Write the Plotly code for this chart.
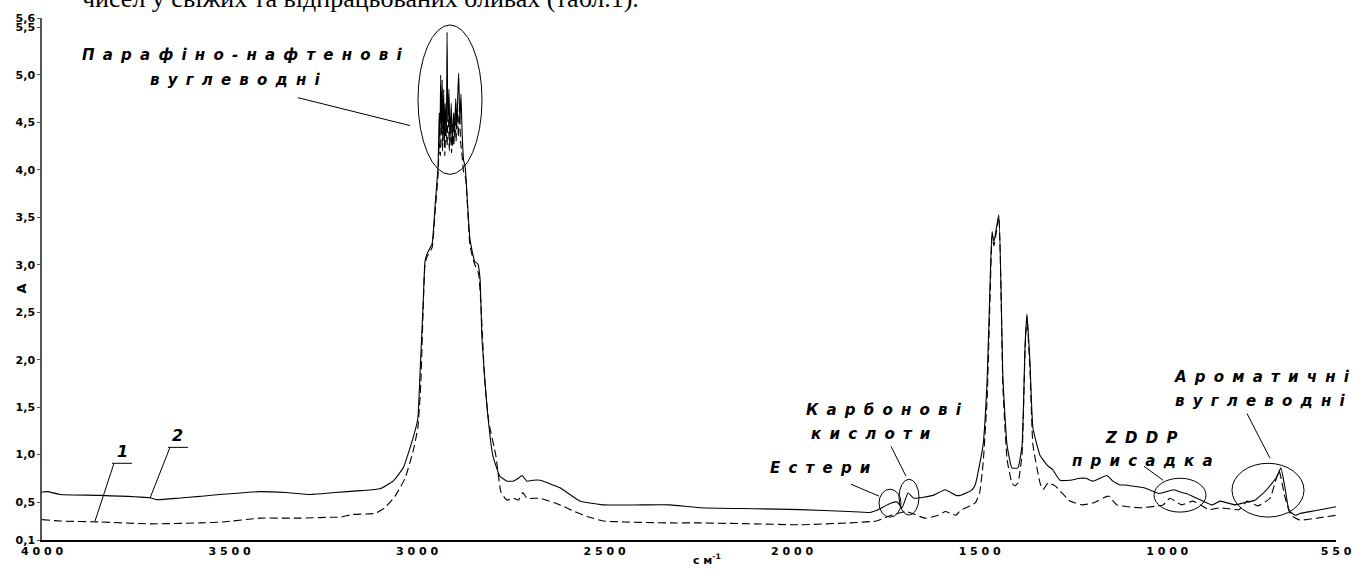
import plotly.graph_objects as go

# ---------------- data ----------------
# curve 2 (solid)
wn2 = [4000, 3985, 3952, 3845, 3712, 3693, 3637, 3579, 3419, 3350, 3285, 3220, 3152, 3099, 3064,
       3037, 3011, 2998, 2992, 2984, 2979, 2974, 2960, 2952,
       2944, 2941, 2939, 2937, 2935, 2933, 2931, 2929, 2927, 2925, 2922, 2920, 2918, 2915, 2912,
       2909, 2906, 2903, 2900, 2897, 2894, 2891, 2889, 2886, 2883, 2880, 2876,
       2872, 2859, 2846, 2838, 2832, 2827, 2814, 2798, 2779, 2760, 2744, 2730, 2720, 2707, 2690,
       2672, 2619, 2566, 2504, 2400, 2326, 2246, 2100, 1979, 1850, 1792, 1776, 1736, 1720, 1707,
       1691, 1675, 1624, 1592, 1563, 1552, 1523, 1512, 1491, 1480, 1472, 1467, 1462, 1449, 1438,
       1427, 1414, 1398, 1387, 1379, 1374, 1366, 1358, 1339, 1318, 1305, 1286, 1259, 1233, 1217,
       1198, 1161, 1145, 1126, 1115, 1062, 1022, 1011, 982, 961, 950, 921, 881, 859, 819, 798,
       766, 737, 707, 697, 686, 675, 659, 646, 603, 550]
a2 = [0.605, 0.61, 0.58, 0.57, 0.545, 0.525, 0.54, 0.56, 0.61, 0.60, 0.58, 0.60, 0.62, 0.64, 0.72,
      0.86, 1.17, 1.38, 1.87, 2.57, 3.03, 3.11, 3.22, 3.62,
      4.04, 4.6, 4.3, 5.0, 4.4, 4.95, 4.3, 4.85, 4.25, 4.7, 4.35, 5.45, 4.5, 4.85, 4.3,
      4.7, 4.25, 4.6, 4.35, 4.75, 4.45, 4.85, 5.02, 4.5, 4.8, 4.4, 4.1,
      4.04, 3.27, 3.03, 3.01, 2.85, 2.22, 1.52, 0.99, 0.77, 0.72, 0.72, 0.75, 0.78, 0.72, 0.73,
      0.73, 0.65, 0.51, 0.47, 0.47, 0.47, 0.44, 0.43, 0.42, 0.40, 0.39, 0.41, 0.49, 0.50, 0.44,
      0.595, 0.54, 0.57, 0.63, 0.57, 0.57, 0.62, 0.68, 1.10, 1.80, 2.85, 3.35, 3.24, 3.53, 1.80,
      1.10, 0.86, 0.86, 1.10, 2.15, 2.48, 1.98, 1.28, 0.99, 0.88, 0.84, 0.73, 0.73, 0.75, 0.75,
      0.72, 0.78, 0.72, 0.68, 0.68, 0.65, 0.59, 0.60, 0.63, 0.60, 0.59, 0.54, 0.47, 0.51, 0.47, 0.49,
      0.52, 0.62, 0.77, 0.86, 0.65, 0.41, 0.36, 0.38, 0.41, 0.45]

# curve 1 (dashed)
wn1 = [4000, 3952, 3845, 3712, 3579, 3517, 3419, 3312, 3232, 3205, 3171, 3112, 3086, 3059, 3032,
       3011, 2998, 2990, 2984, 2979, 2974, 2960, 2952,
       2944, 2941, 2938, 2935, 2932, 2929, 2926, 2923, 2920, 2917, 2914, 2911, 2908, 2905, 2902,
       2899, 2896, 2893, 2890, 2887, 2884, 2880, 2876,
       2870, 2859, 2846, 2838, 2835, 2830, 2820, 2809, 2790, 2776, 2760, 2744, 2730, 2718, 2707,
       2672, 2619, 2580, 2540, 2504, 2446, 2326, 2246, 2100, 1979, 1850, 1776, 1736, 1696, 1646,
       1610, 1592, 1563, 1552, 1512, 1500, 1491, 1480, 1472, 1467, 1462, 1449, 1438, 1427, 1414,
       1406, 1398, 1387, 1379, 1374, 1366, 1358, 1339, 1331, 1318, 1299, 1259, 1227, 1198, 1161,
       1155, 1134, 1073, 1011, 993, 961, 931, 889, 859, 809, 787, 758, 726, 702, 686, 670, 646,
       603, 550]
a1 = [0.315, 0.30, 0.29, 0.27, 0.28, 0.29, 0.33, 0.33, 0.34, 0.34, 0.37, 0.38, 0.44, 0.56, 0.75,
      1.03, 1.28, 1.75, 2.50, 3.00, 3.08, 3.18, 3.55,
      3.95, 4.3, 4.15, 4.6, 4.2, 4.7, 4.15, 4.55, 4.25, 4.65, 4.2, 4.55, 4.18, 4.5, 4.25,
      4.6, 4.3, 4.7, 4.35, 4.65, 4.3, 4.15, 3.98,
      3.9, 3.2, 3.0, 2.93, 2.88, 2.6, 1.8, 1.35, 0.99, 0.60, 0.52, 0.54, 0.52, 0.60, 0.54,
      0.54, 0.47, 0.40, 0.34, 0.30, 0.29, 0.28, 0.28, 0.27, 0.26, 0.28, 0.30, 0.36, 0.40, 0.33,
      0.36, 0.40, 0.36, 0.41, 0.49, 0.60, 0.90, 1.60, 2.70, 3.30, 3.20, 3.50, 1.70, 0.95, 0.70,
      0.67, 0.70, 1.00, 2.10, 2.45, 1.90, 1.10, 0.70, 0.63, 0.70, 0.67, 0.51, 0.47, 0.49, 0.56,
      0.56, 0.47, 0.44, 0.47, 0.54, 0.47, 0.51, 0.42, 0.44, 0.42, 0.51, 0.46, 0.54, 0.83, 0.55, 0.36, 0.31,
      0.33, 0.36]

y_ticks = [0.1, 0.5, 1.0, 1.5, 2.0, 2.5, 3.0, 3.5, 4.0, 4.5, 5.0, 5.5, 5.6]
y_tick_text = ["0,1", "0,5", "1,0", "1,5", "2,0", "2,5", "3,0", "3,5", "4,0", "4,5", "5,0", "5,5", "5,6"]
x_ticks = [4000, 3500, 3000, 2500, 2000, 1500, 1000, 550]
x_tick_text = ["4 0 0 0", "3 5 0 0", "3 0 0 0", "2 5 0 0", "2 0 0 0", "1 5 0 0", "1 0 0 0", "5 5 0"]

# ---------------- layout helpers (pixel -> paper) ----------------
W, H = 1369, 570
L, R, T, B = 42, 33, 18, 28
PW, PH = W - L - R, H - T - B


def X(px):
    return (px - L) / PW


def Y(py):
    return (H - B - py) / PH


def spaced(s, sep="\u00a0\u2009"):
    return sep.join(list(s))


fig = go.Figure()
fig.add_trace(go.Scatter(x=wn1, y=a1, mode="lines",
                         line=dict(color="black", width=1.1, dash="8px,4px", shape="spline", smoothing=0.4),
                         name="1"))
fig.add_trace(go.Scatter(x=wn2, y=a2, mode="lines",
                         line=dict(color="black", width=1.1, shape="spline", smoothing=0.4), name="2"))

ann = []


def label(text, cx, cy, size=15):
    ann.append(dict(text="<b><i>" + spaced(text) + "</i></b>", x=X(cx), y=Y(cy), xref="paper", yref="paper",
                    showarrow=False, xanchor="center", yanchor="middle",
                    font=dict(family="DejaVu Sans", size=size, color="black")))


label("Парафіно-нафтенові", 242, 55)
label("вуглеводні", 235, 80)
label("Карбонові", 884, 412)
label("кислоти", 871, 436)
label("Естери", 821, 470)
label("ZDDP", 1141, 440)
label("присадка", 1142, 463)
label("Ароматичні", 1262, 378)
label("вуглеводні", 1260, 402)
label("1", 122, 453, 16)
label("2", 177, 437, 16)

# cut-off document text at top
ann.append(dict(text="чисел у свіжих та відпрацьованих оливах (табл.1).", x=X(80), y=1, xref="paper", yref="paper",
                xanchor="left", yanchor="bottom", yshift=3, showarrow=False,
                font=dict(family="Liberation Serif", size=26, color="black")))
# axis titles
ann.append(dict(text="<b>с\u00a0м<sup>-1</sup></b>", x=X(707), y=Y(552), xref="paper", yref="paper",
                xanchor="center", yanchor="top",
                showarrow=False, font=dict(family="DejaVu Sans", size=11, color="black")))
ann.append(dict(text="<b>A</b>", x=X(12), y=Y(290), xref="paper", yref="paper", textangle=-90,
                showarrow=False, font=dict(family="DejaVu Sans", size=13, color="black")))

shapes = []


def ellipse(cx, cy, rx, ry):
    shapes.append(dict(type="circle", xref="paper", yref="paper",
                       x0=X(cx - rx), x1=X(cx + rx), y0=Y(cy + ry), y1=Y(cy - ry),
                       line=dict(color="black", width=1)))


def seg(x0, y0, x1, y1):
    shapes.append(dict(type="line", xref="paper", yref="paper",
                       x0=X(x0), y0=Y(y0), x1=X(x1), y1=Y(y1), line=dict(color="black", width=1)))


ellipse(450, 100, 32, 75)
ellipse(890, 505, 11, 14)
ellipse(909, 499, 10, 18)
ellipse(1180, 497, 26, 17)
ellipse(1268, 492, 36, 27)

seg(298, 98, 410, 126)
seg(851, 486, 879, 498)
seg(891, 448, 906, 478)
seg(1144, 468, 1163, 482)
seg(1247, 415, 1270, 460)
seg(112, 465, 132, 465)
seg(114, 465, 95, 523)
seg(168, 449, 188, 449)
seg(170, 449, 150, 500)

fig.update_layout(
    width=W, height=H, margin=dict(l=L, r=R, t=T, b=B),
    paper_bgcolor="white", plot_bgcolor="white", showlegend=False,
    annotations=ann, shapes=shapes,
    xaxis=dict(range=[4000, 550], tickvals=x_ticks, ticktext=["<b>" + t + "</b>" for t in x_tick_text],
               showgrid=False, zeroline=False,
               showline=True, linecolor="black", linewidth=1.5, ticks="", ticklen=0,
               tickfont=dict(family="DejaVu Sans", size=11, color="black")),
    yaxis=dict(range=[0.1, 5.6], tickvals=y_ticks, ticktext=["<b>" + t + "</b>" for t in y_tick_text],
               showgrid=False, zeroline=False,
               showline=True, linecolor="#555555", linewidth=1.5, ticks="outside", ticklen=3,
               tickcolor="#555555",
               tickfont=dict(family="DejaVu Sans", size=11, color="black")),
)

fig.write_html("out.html")
